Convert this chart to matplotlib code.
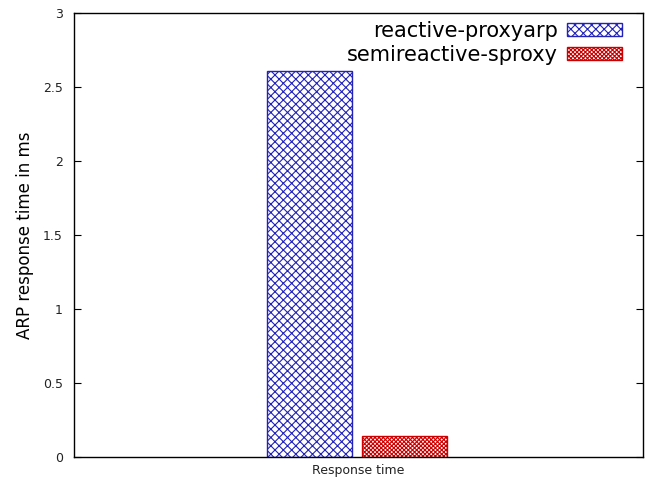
import matplotlib
matplotlib.use("Agg")
import matplotlib.pyplot as plt

# valores
grupos = ["Response time"]
series = ["reactive-proxyarp", "semireactive-sproxy"]
valores = [[2.61], [0.14]]
cores = ["#2222bb", "#cc0000"]
hachuras = ["xxxx", "xxxxxxxx"]
yticks = [0, 0.5, 1, 1.5, 2, 2.5, 3]

plt.rcParams["hatch.linewidth"] = 0.8

fig = plt.figure(figsize=(6.48, 4.8), dpi=100)
ax = fig.add_axes([0.114, 0.048, 0.878, 0.925])

largura = 0.3
deslocs = [-0.172, 0.163]
for i, nome in enumerate(series):
    xs = [g + deslocs[i] for g in range(len(grupos))]
    ax.bar(xs, valores[i], width=largura, facecolor="white",
           edgecolor=cores[i], hatch=hachuras[i], linewidth=1.0, label=nome)

ax.set_xlim(-1, 1)
ax.set_ylim(0, 3)
ax.set_xticks(range(len(grupos)))
ax.set_xticklabels(grupos, fontsize=9, color="#222222")
ax.tick_params(axis="x", length=0, pad=5)
ax.set_yticks(yticks)
ax.set_yticklabels([f"{v:g}" for v in yticks], fontsize=9, color="#222222")
ax.tick_params(axis="y", direction="in", right=True, length=5, pad=8)
for s in ax.spines.values():
    s.set_linewidth(1.0)
ax.set_ylabel("ARP response time in ms", fontsize=12, labelpad=6)

ax.legend(loc="upper right", bbox_to_anchor=(0.97, 0.992), frameon=False,
          markerfirst=False, fontsize=15,
          handlelength=2.6, handleheight=0.6, handletextpad=0.45,
          labelspacing=0.2, borderaxespad=0.0, borderpad=0.2)

plt.savefig("out.png", dpi=100)
plt.close()
